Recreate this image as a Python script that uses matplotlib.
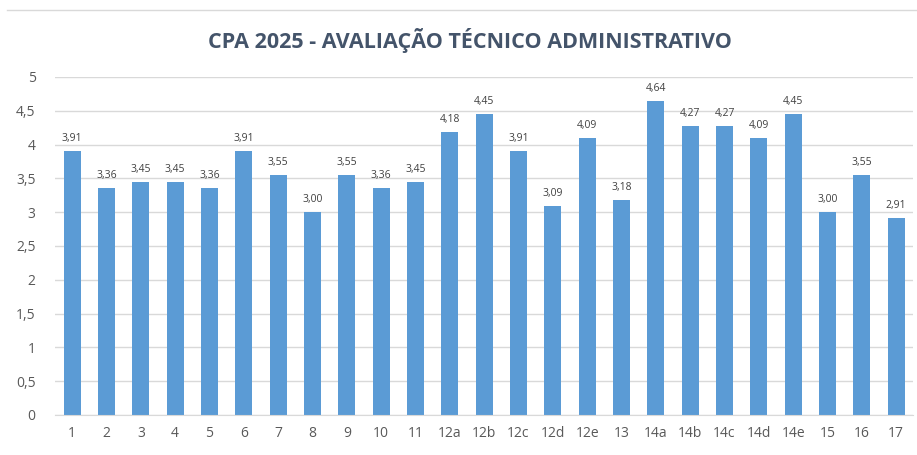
import matplotlib.pyplot as plt

# Dataset
categorias = ['1', '2', '3', '4', '5', '6', '7', '8', '9', '10', '11',
              '12a', '12b', '12c', '12d', '12e', '13',
              '14a', '14b', '14c', '14d', '14e', '15', '16', '17']
medias = [3.91, 3.36, 3.45, 3.45, 3.36, 3.91, 3.55, 3.00, 3.55, 3.36, 3.45,
          4.18, 4.45, 3.91, 3.09, 4.09, 3.18,
          4.64, 4.27, 4.27, 4.09, 4.45, 3.00, 3.55, 2.91]
yticks = [0, 0.5, 1, 1.5, 2, 2.5, 3, 3.5, 4, 4.5, 5]

fig = plt.figure(figsize=(9.17, 4.55), dpi=100, facecolor='white')
ax = fig.add_axes([0.06, 0.088, 0.936, 0.743])

x = range(len(categorias))
bars = ax.bar(x, medias, width=0.5, color='#5B9BD5', zorder=2)

for b, v in zip(bars, medias):
    ax.annotate(f'{v:.2f}'.replace('.', ','), (b.get_x() + b.get_width() / 2, v),
                xytext=(0, 5), textcoords='offset points', ha='center', va='bottom',
                fontsize=7.5, color='#404040', family='Open Sans')

ax.set_xlim(-0.5, len(categorias) - 0.5)
ax.set_ylim(0, 5)
ax.set_yticks(yticks)
ax.set_yticklabels([f'{t:g}'.replace('.', ',') for t in yticks])
ax.set_xticks(list(x))
ax.set_xticklabels(categorias)
ax.tick_params(length=0, labelsize=10, colors='#595959', pad=8)
ax.tick_params(axis='y', pad=14)
for lab in ax.get_xticklabels() + ax.get_yticklabels():
    lab.set_family('Open Sans')

ax.grid(axis='y', color='#D9D9D9', linewidth=1, zorder=0)
for s in ['top', 'right', 'left']:
    ax.spines[s].set_visible(False)
ax.spines['bottom'].set_color('#D9D9D9')

fig.text(0.512, 0.912, 'CPA 2025 - AVALIAÇÃO TÉCNICO ADMINISTRATIVO', ha='center', va='center',
         fontsize=15.5, fontweight='bold', color='#44546A', family='Open Sans')

# faint chart border at the top
fig.add_artist(plt.Line2D([0.008, 1], [0.978, 0.978], color='#D9D9D9', linewidth=1))

fig.savefig('out.png', dpi=100)
